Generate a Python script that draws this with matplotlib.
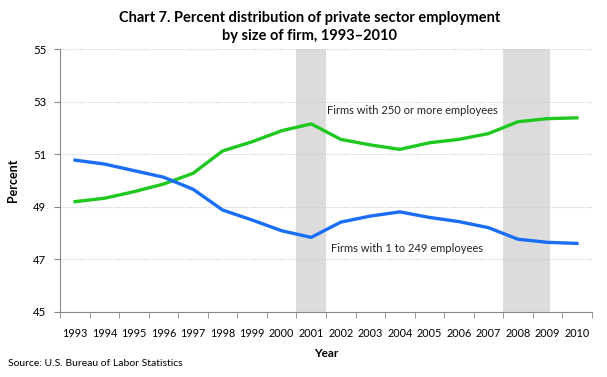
import matplotlib.pyplot as plt

years = [str(y) for y in range(1993, 2011)]
large_firms = [49.19, 49.32, 49.57, 49.86, 50.27, 51.12, 51.47, 51.89, 52.15,
               51.56, 51.35, 51.18, 51.43, 51.56, 51.78, 52.23, 52.35, 52.38]
small_firms = [50.77, 50.62, 50.37, 50.12, 49.66, 48.87, 48.49, 48.08, 47.83,
               48.41, 48.64, 48.80, 48.59, 48.43, 48.20, 47.76, 47.64, 47.60]
recessions = [(7.5, 8.5), (14.5, 16.1)]

plt.rcParams['font.family'] = ['Lato', 'DejaVu Sans']

fig = plt.figure(figsize=(6.07, 3.77), dpi=100)
ax = fig.add_axes([0.0993, 0.1732, 0.8755, 0.6968])

x = list(range(len(years)))
for a, b in recessions:
    ax.axvspan(a, b, color='#dcdcdc', lw=0, zorder=0)

for v in range(47, 56, 2):
    ax.axhline(v, color='#c8c8c8', lw=0.8, ls=(0, (1, 1.5)), zorder=1)

ax.plot(x, large_firms, color='#1fc81f', lw=2.4, zorder=3)
ax.plot(x, small_firms, color='#1a6ef5', lw=2.4, zorder=3)

ax.text(8.55, 52.65, 'Firms with 250 or more employees', fontsize=8, color='#222222', va='center')
ax.text(8.68, 47.4, 'Firms with 1 to 249 employees', fontsize=8, color='#222222', va='center')

ax.set_xlim(-0.5, len(years) - 0.5)
ax.set_ylim(45, 55)
ax.set_yticks(range(45, 56, 2))
ax.set_xticks(x)
ax.set_xticklabels(years, fontsize=7.8)
ax.set_xticks([i - 0.5 for i in range(len(years) + 1)], minor=True)
ax.tick_params(axis='x', which='major', length=0, pad=12)
ax.tick_params(axis='x', which='minor', length=4, color='#888888')
ax.tick_params(axis='y', length=4, color='#888888', labelsize=8.2, pad=6)

for s in ['top', 'right']:
    ax.spines[s].set_visible(False)
for s in ['left', 'bottom']:
    ax.spines[s].set_color('#888888')

ax.set_ylabel('Percent', fontsize=9, fontweight='bold', labelpad=10)
ax.set_xlabel('Year', fontsize=8.5, fontweight='bold', labelpad=6)

fig.text(0.51, 0.928, 'Chart 7. Percent distribution of private sector employment\nby size of firm, 1993\u20132010',
         ha='center', va='center', fontsize=10.5, fontweight='bold', linespacing=1.4)
fig.text(0.013, 0.035, 'Source: U.S. Bureau of Labor Statistics', fontsize=7.5, va='center')

fig.savefig('out.png', dpi=100)
